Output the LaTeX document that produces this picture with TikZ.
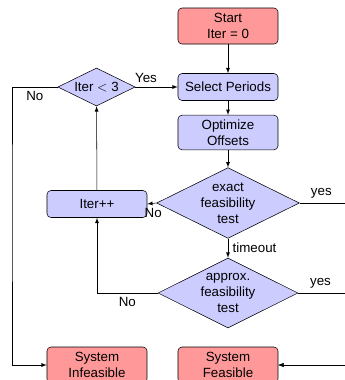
\documentclass[tikz,border=0pt]{standalone}
\usepackage{fontspec}
\setmainfont{Liberation Sans}
\usepackage{tikz}
\usetikzlibrary{shapes,arrows,positioning,calc}

\begin{document}
\begin{tikzpicture}[
    x=0.75pt, y=-0.75pt,
    >=latex,
    block/.style={rectangle, rounded corners=3pt, draw, fill=blue!20, minimum width=75pt, minimum height=20.25pt, align=center},
    startstop/.style={rectangle, rounded corners=3pt, draw, fill=red!40, minimum width=75pt, minimum height=27pt, align=center},
    decision/.style={diamond, draw, fill=blue!20, aspect=2, inner sep=0pt, align=center}
]
\useasboundingbox (0,0) rectangle (345,380);

% main column
\node (start) at (228,26) [startstop] {Start\\Iter = 0};
\node (select) at (228,87) [block] {Select Periods};
\node (optimize) at (228,132.5) [block, minimum height=26pt] {Optimize\\Offsets};
\node (exact) at (228,203) [decision, minimum width=107pt, minimum height=53pt] {exact\\feasibility\\test};
\node (approx) at (228,293) [decision, minimum width=105pt, minimum height=52.5pt] {approx.\\feasibility\\test};

% loop
\node (iterinc) at (97,204) [block] {Iter++};
\node (itercheck) at (96.5,87) [decision, minimum width=58pt, minimum height=28.5pt] {Iter $<$ 3};

% results
\node (infeasible) at (97,365) [startstop] {System\\Infeasible};
\node (feasible) at (228,365) [startstop] {System\\Feasible};

\coordinate (nobus) at (12,200);
\coordinate (yesbus) at (360,300);

\draw[->] (start) -- (select);
\draw[->] (select) -- (optimize);
\draw[->] (optimize) -- (exact);
\draw[->] (exact) -- node[right] {timeout} (approx);
\draw[->] (exact.west) -- node[below, xshift=1pt] {No} (iterinc.east);
\draw[->] (approx.west) -| node[below, pos=0.25] {No} (iterinc.south);
\draw[->] (iterinc) -- (itercheck);
\draw[->] (itercheck.east) -- node[above, pos=0.25] {Yes} (select.west);
\draw[->] (itercheck.west) -| node[below, pos=0.25] {No} (nobus) |- (infeasible.west);
\draw[->] (exact.east) -| node[above, pos=0.18] {yes} (yesbus) |- (feasible.east);
\draw[->] (approx.east) -| node[above, pos=0.18] {yes} (yesbus) |- (feasible.east);

\end{tikzpicture}
\end{document}
